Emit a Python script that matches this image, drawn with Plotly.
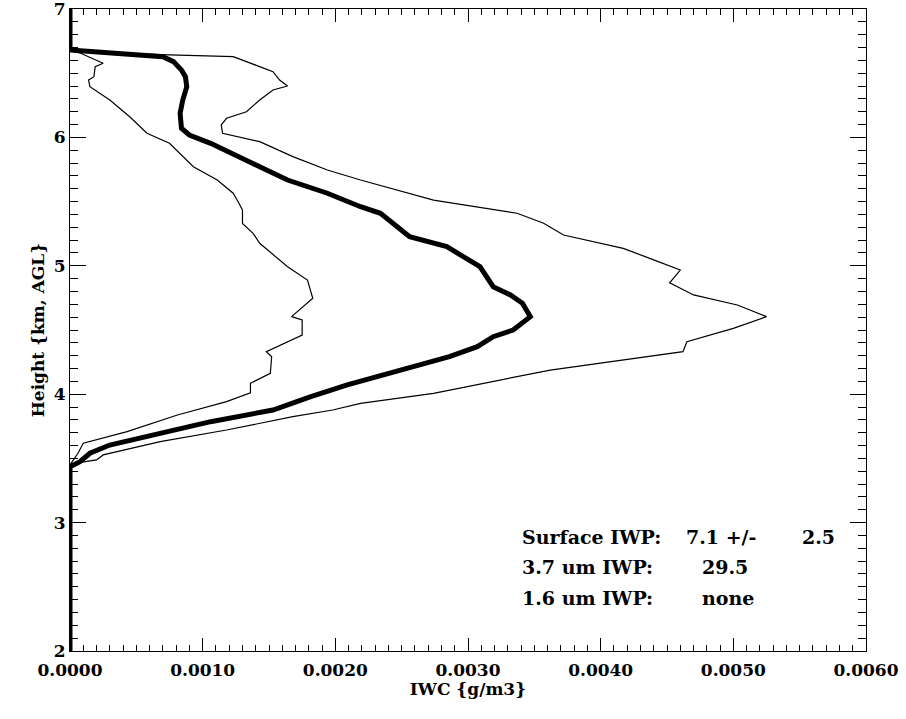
import plotly.graph_objects as go

# Mean IWC profile (thick line)
mean_height = [2.0, 3.435, 3.474, 3.54, 3.604, 3.695, 3.786, 3.877, 3.98, 4.072, 4.19, 4.292,
               4.37, 4.448, 4.5, 4.604, 4.708, 4.773, 4.837, 4.915, 4.993, 5.149, 5.227, 5.409,
               5.46, 5.565, 5.668, 5.772, 5.876, 5.954, 6.019, 6.071, 6.188, 6.291, 6.395,
               6.473, 6.525, 6.59, 6.629, 6.642, 6.667, 6.68, 7.0]
mean_iwc = [0, 0, 0.000075, 0.00015, 0.0003, 0.00068, 0.00106, 0.00153, 0.00181, 0.00209, 0.00249,
            0.00286, 0.00307, 0.00319, 0.00334, 0.00347, 0.00341, 0.00332, 0.00319, 0.00314,
            0.00309, 0.00284, 0.00256, 0.00234, 0.00219, 0.00194, 0.00164, 0.00143, 0.00123,
            0.00106, 0.0009, 0.00084, 0.00083, 0.00085, 0.00088, 0.00087, 0.00084, 0.00078,
            0.0007, 0.0005, 0.00018, 0, 0]

# Upper bound profile (thin right line)
upper_height = [2.0, 3.45, 3.46, 3.488, 3.527, 3.63, 3.721, 3.825, 3.877, 3.929, 4.007, 4.188,
                4.331, 4.409, 4.513, 4.604, 4.695, 4.773, 4.868, 4.967, 5.058, 5.136, 5.24,
                5.331, 5.409, 5.512, 5.668, 5.746, 5.85, 5.967, 6.032, 6.097, 6.149, 6.2,
                6.291, 6.369, 6.4, 6.447, 6.512, 6.59, 6.629, 6.642, 6.667, 6.68, 7.0]
upper_iwc = [0, 0, 0.00002, 0.0002, 0.00025, 0.00068, 0.00118, 0.00168, 0.00198, 0.00219, 0.00274,
             0.00362, 0.00462, 0.00465, 0.005, 0.00525, 0.00503, 0.0047, 0.00452, 0.0046,
             0.00437, 0.00417, 0.00372, 0.00357, 0.00337, 0.00274, 0.00219, 0.00194, 0.00168,
             0.00143, 0.00115, 0.00114, 0.00118, 0.00133, 0.00143, 0.00153, 0.00164, 0.00158,
             0.00153, 0.00133, 0.00123, 0.00075, 0.00008, 0, 0]

# Lower bound profile (thin left line)
lower_height = [2.0, 3.45, 3.54, 3.618, 3.708, 3.838, 3.942, 4.01, 4.085, 4.163, 4.292, 4.331,
                4.461, 4.578, 4.604, 4.747, 4.889, 4.993, 5.175, 5.253, 5.33, 5.435, 5.512,
                5.565, 5.668, 5.772, 5.954, 6.032, 6.161, 6.291, 6.395, 6.447, 6.473, 6.551,
                6.577, 6.655, 6.68, 7.0]
lower_iwc = [0, 0, 0.00006, 0.0001, 0.00043, 0.00081, 0.00118, 0.00136, 0.00136, 0.00151, 0.00152,
             0.00148, 0.00175, 0.00175, 0.00167, 0.00183, 0.00179, 0.00164, 0.00143, 0.00138,
             0.0013, 0.0013, 0.00126, 0.00123, 0.00111, 0.00093, 0.00075, 0.00058, 0.00045,
             0.0003, 0.00015, 0.00014, 0.00018, 0.00019, 0.00025, 0.00008, 0, 0]

x_ticks = [0.0, 0.001, 0.002, 0.003, 0.004, 0.005, 0.006]
x_tick_labels = ["0.0000", "0.0010", "0.0020", "0.0030", "0.0040", "0.0050", "0.0060"]
y_ticks = [2, 3, 4, 5, 6, 7]
y_tick_labels = ["2", "3", "4", "5", "6", "7"]

info_labels = ["Surface IWP:", "3.7 um IWP:", "1.6 um IWP:"]
info_values = ["7.1 +/-", "29.5", "none"]
info_extra = "2.5"

FONT = "DejaVu Serif"

fig = go.Figure()
fig.add_trace(go.Scatter(x=lower_iwc, y=lower_height, mode="lines",
                         line=dict(color="black", width=1.2), showlegend=False))
fig.add_trace(go.Scatter(x=upper_iwc, y=upper_height, mode="lines",
                         line=dict(color="black", width=1.2), showlegend=False))
fig.add_trace(go.Scatter(x=mean_iwc, y=mean_height, mode="lines",
                         line=dict(color="black", width=5), showlegend=False))

ann_font = dict(family=FONT, size=19, color="black", weight=600)
label_y = [2.888, 2.654, 2.413]
value_x = [0.004628, 0.004749, 0.004749]
for lab, val, yy, vx in zip(info_labels, info_values, label_y, value_x):
    fig.add_annotation(x=0.003392, y=yy, text=lab, showarrow=False,
                       xanchor="left", yanchor="middle", font=ann_font)
    fig.add_annotation(x=vx, y=yy, text=val,
                       showarrow=False, xanchor="left", yanchor="middle", font=ann_font)
fig.add_annotation(x=0.005502, y=label_y[0], text=info_extra, showarrow=False,
                   xanchor="left", yanchor="middle", font=ann_font)

axis_common = dict(showgrid=False, zeroline=False, showline=True, linecolor="black",
                   linewidth=1.2, mirror="allticks", ticks="inside", tickcolor="black",
                   tickwidth=1, ticklabeloverflow="allow", automargin=False,
                   tickfont=dict(family=FONT, size=17, color="black", weight="bold"))

fig.update_xaxes(range=[0, 0.006], tickvals=x_ticks, ticktext=x_tick_labels, ticklen=13,
                 ticklabelstandoff=3,
                 minor=dict(dtick=0.0001, ticklen=6, ticks="inside", tickcolor="black",
                            tickwidth=1, showgrid=False),
                 title=dict(text="IWC {g/m3}",
                            font=dict(family=FONT, size=17, color="black", weight="bold"),
                            standoff=2),
                 **axis_common)
fig.update_yaxes(range=[2, 7], tickvals=y_ticks, ticktext=y_tick_labels, ticklen=16,
                 minor=dict(dtick=0.1, ticklen=8, ticks="inside", tickcolor="black",
                            tickwidth=1, showgrid=False),
                 title=dict(text="Height {km, AGL}",
                            font=dict(family=FONT, size=17, color="black", weight="bold"),
                            standoff=4),
                 **axis_common)

fig.update_layout(width=906, height=719, margin=dict(l=70, r=40, t=9, b=68),
                  plot_bgcolor="white", paper_bgcolor="white")

fig.write_html("out.html")
